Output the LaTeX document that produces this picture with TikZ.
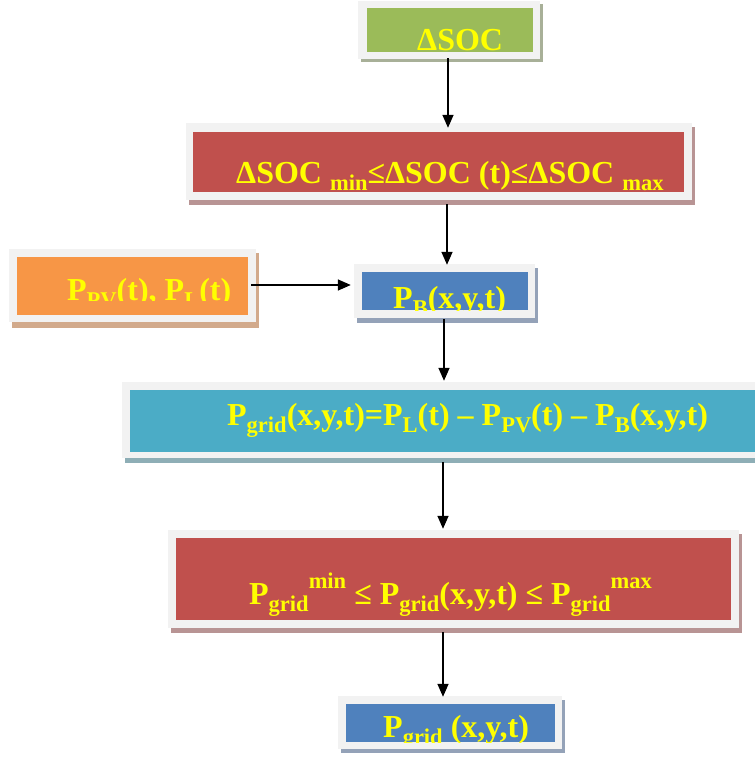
\documentclass[tikz,border=0pt]{standalone}
\usepackage{fontspec}
\setmainfont{Liberation Serif}
\usetikzlibrary{arrows.meta}
\definecolor{framec}{HTML}{F2F2F2}
\definecolor{greenc}{HTML}{9BBB59}
\definecolor{redc}{HTML}{C0504D}
\definecolor{orangec}{HTML}{F79646}
\definecolor{bluec}{HTML}{4F81BD}
\definecolor{tealc}{HTML}{4BACC6}
\definecolor{shgreen}{HTML}{A8B098}
\definecolor{shred}{HTML}{B89494}
\definecolor{shorange}{HTML}{D2AA8C}
\definecolor{shblue}{HTML}{94A2B8}
\definecolor{shteal}{HTML}{8EAEB6}
\definecolor{txtc}{HTML}{FFFF00}
\newcommand\sbs[1]{\raisebox{-0.24em}{\fontsize{22.5}{22.5}\selectfont #1}}
\newcommand\sps[1]{\raisebox{0.5em}{\fontsize{22.5}{22.5}\selectfont #1}}
\tikzset{
  frame/.style={fill=framec, draw=none},
  txt/.style={text=txtc, font=\fontsize{32}{36}\selectfont\bfseries, inner sep=0pt, anchor=base west},
  arr/.style={line width=1.5pt, -{Triangle[length=13pt,width=11pt]}},
}
\begin{document}
\begin{tikzpicture}[x=1pt,y=-1pt]
\useasboundingbox (0,0) rectangle (755,758);
% ---------- shadows ----------
\fill[shgreen]  (361,4)   rectangle (543,62);
\fill[shred]    (189,127) rectangle (695,205);
\fill[shorange] (12,253)  rectangle (259,328);
\fill[shblue]   (357,268) rectangle (538,323);
\fill[shteal]   (125,386) rectangle (755,463);
\fill[shred]    (171,534) rectangle (742,633);
\fill[shblue]   (341,700) rectangle (565,753);
% ---------- frames ----------
\node[frame, minimum width=182pt, minimum height=58pt] (soc)  at (449,30) {};
\node[frame, minimum width=506pt, minimum height=77pt] (cons) at (439,161.5) {};
\node[frame, minimum width=247pt, minimum height=73pt] (pv)   at (132.5,285.5) {};
\node[frame, minimum width=181pt, minimum height=54pt] (pb)   at (444.5,291) {};
\node[frame, minimum width=633pt, minimum height=76pt] (grid) at (438.5,420) {};
\node[frame, minimum width=571pt, minimum height=98pt] (lim)  at (453.5,579) {};
\node[frame, minimum width=224pt, minimum height=53pt] (out)  at (450,722.5) {};
% ---------- inner fills ----------
\fill[greenc]  (367,8)   rectangle (533,52);
\fill[redc]    (193,132) rectangle (684,192);
\fill[orangec] (17,257)  rectangle (248,315);
\fill[bluec]   (362,272) rectangle (528,310);
\fill[tealc]   (130,390) rectangle (755,452);
\fill[redc]    (176,538) rectangle (731,620);
\fill[bluec]   (346,704) rectangle (555,742);
% ---------- texts ----------
\node[txt] (tsoc) at (417,50) {ΔSOC};
\node[txt] (tcons) at (236,183) {ΔSOC \sbs{min}≤ΔSOC (t)≤ΔSOC \sbs{max}};
\begin{scope}
  \clip (17,257) rectangle (248,300.5);
  \node[txt] (tpv) at (67,300) {P\sbs{PV}(t), P\sbs{L}(t)};
\end{scope}
\begin{scope}
  \clip (362,272) rectangle (528,310);
  \node[txt] (tpb) at (393,308) {P\sbs{B}(x,y,t)};
\end{scope}
\node[txt] (tgrid) at (227,425) {P\sbs{grid}(x,y,t)=P\sbs{L}(t) – P\sbs{PV}(t) – P\sbs{B}(x,y,t)};
\node[txt] (tlim) at (249,604) {P\sbs{grid}\sps{min} ≤ P\sbs{grid}(x,y,t) ≤ P\sbs{grid}\sps{max}};
\begin{scope}
  \clip (346,704) rectangle (555,742);
  \node[txt] (tout) at (383,737) {P\sbs{grid} (x,y,t)};
\end{scope}
% ---------- connectors ----------
\draw[arr] ([xshift=-1pt,yshift=1pt]soc.south) -- ([xshift=9pt,yshift=-5pt]cons.north);
\draw[arr] ([xshift=8pt,yshift=-4pt]cons.south) -- ([xshift=2.5pt,yshift=-1pt]pb.north);
\draw[arr] ([xshift=-5pt,yshift=0.5pt]pv.east) -- ([xshift=-3pt,yshift=6pt]pb.west);
\draw[arr] ([xshift=-0.5pt,yshift=-1pt]pb.south) -- ([xshift=5.5pt,yshift=1pt]grid.north);
\draw[arr] ([xshift=4.5pt,yshift=-4pt]grid.south) -- ([xshift=-10.5pt,yshift=1pt]lim.north);
\draw[arr] ([xshift=-10.5pt,yshift=-4pt]lim.south) -- ([xshift=-7pt,yshift=-1pt]out.north);
\end{tikzpicture}
\end{document}
